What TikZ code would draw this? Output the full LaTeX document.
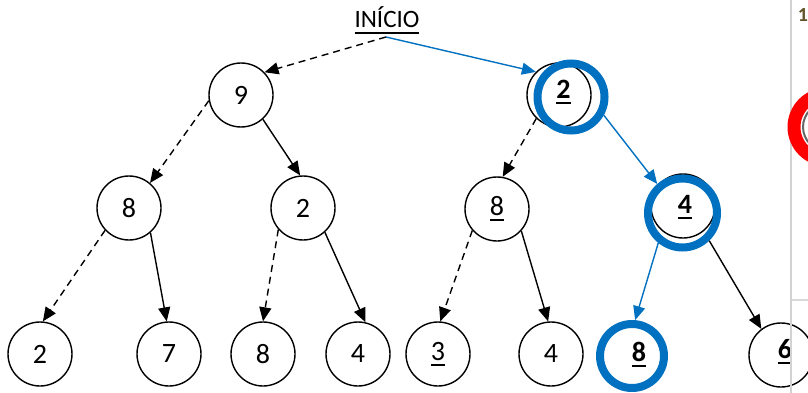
\documentclass[tikz,border=0pt]{standalone}
\usepackage{fontspec}
\setmainfont{Carlito}
\usetikzlibrary{arrows.meta}
\definecolor{ringblue}{RGB}{0,112,192}
\definecolor{olivedark}{RGB}{95,85,40}
% underline a piece of text: #1 = rule offset below the baseline
\newcommand\undl[2][-5.5pt]{\setbox0\hbox{#2}\rlap{\rule[#1]{\wd0}{2pt}}\box0}
\begin{document}
\begin{tikzpicture}[x=1pt,y=-1pt,
  nd/.style={circle,draw,line width=1.4pt,minimum size=64pt,inner sep=0pt,
             font=\fontsize{28}{30}\selectfont},
  txt/.style={inner sep=0pt,anchor=base,font=\fontsize{28}{30}\selectfont\bfseries},
  ring/.style={circle,draw=ringblue,line width=8pt,minimum size=67pt,inner sep=0pt},
  arr/.style={line width=1.4pt,-{Triangle[length=14pt,width=12pt]}},
  dsh/.style={arr,dash pattern=on 7pt off 5pt},
  blu/.style={arr,color=ringblue}]
\useasboundingbox (0,0) rectangle (808,393);
\clip (0,0) rectangle (808,393);

% start label
\node[inner sep=0pt,anchor=base,font=\fontsize{25}{27}\selectfont] (start) at (387,28)
  {\undl[-6.5pt]{INÍCIO}};
\coordinate (s) at (386,37);

% level 1
\node[nd] (a) at (241,95) {9};
\node[nd] (b) at (559,95) {};
% level 2
\node[nd] (c) at (129,208) {8};
\node[nd] (d) at (303,208) {2};
\node[nd] (e) at (497,209) {\undl{8}};
\node[nd] (f) at (683,206) {};
% level 3
\node[nd] (g1) at (40,354) {2};
\node[nd] (g2) at (169,354) {7};
\node[nd] (g3) at (263,354) {8};
\node[nd] (g4) at (358,354) {4};
\node[nd] (g5) at (438,354) {\undl{3}};
\node[nd] (g6) at (551,354) {4};
\node[nd] (g7) at (634,355) {};
\node[nd] (g8) at (781,355) {};

% highlighted path rings
\node[ring] (rb) at (571,97) {};
\node[ring,minimum size=69pt] (rf) at (682.5,213) {};
\node[ring,minimum size=64pt] (rh) at (632,356) {};

% values of the highlighted nodes
\node[txt] (tb) at (563.5,99) {\undl{2}};
\node[txt] (tf) at (685,213) {\undl{4}};
\node[txt] (th) at (639,361) {\undl{8}};
\node[txt] (tg) at (785,358) {\undl{6}};

% connectors
\draw[dsh] (s) -- (a.44);
\draw[blu] (s) -- (b.135);
\draw[dsh] (a.190) -- (c.50);
\draw[arr] (a.-48) -- (d.95);
\draw[dsh] (b.226) -- (e.80);
\draw[blu] (rb.-29) -- (rf.131);
\draw[dsh] (c.223) -- (g1.85);
\draw[arr] (c.-49) -- (g2.94);
\draw[dsh] (d.221) -- (g3.90);
\draw[arr] (d.-48) -- (g4.77);
\draw[dsh] (e.221) -- (g5.86);
\draw[arr] (e.-42) -- (g6.95);
\draw[blu] (rf.231) -- (rh.85);
\draw[arr] (rf.-46) -- (g8.127);

% neighbouring window edge
\draw[gray!35,line width=2pt] (791,0) -- (791,393);
\draw[gray!30,line width=1.5pt] (792,300) -- (808,300);
\draw[black!60,line width=2pt] (827,127) circle[radius=24];
\draw[red,line width=13pt] (827,127) circle[radius=33];
\node[inner sep=0pt,anchor=base,text=olivedark,font=\fontsize{20}{22}\selectfont\bfseries] (one) at (803,22) {1};
\end{tikzpicture}
\end{document}
